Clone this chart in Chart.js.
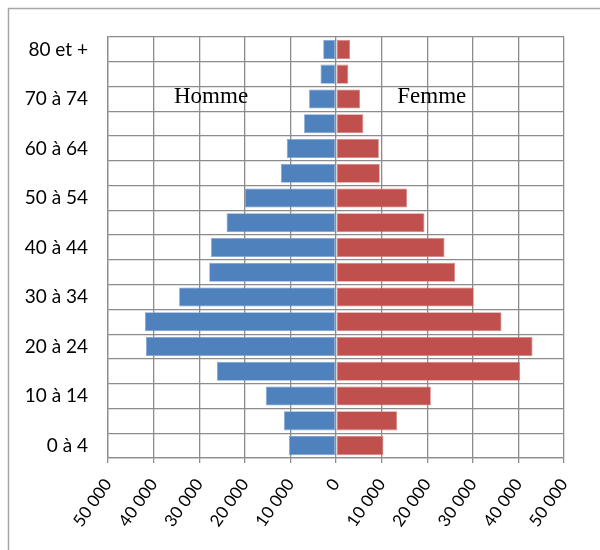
<!DOCTYPE html>
<html>
<head>
<meta charset="utf-8">
<script src="https://cdn.jsdelivr.net/npm/chart.js@4/dist/chart.umd.min.js"></script>
<style>
  html, body { margin: 0; padding: 0; background: #fff; }
  #pyramide { display: block; }
</style>
</head>
<body>
<canvas id="pyramide" width="600" height="550"></canvas>
<script>
// tranches d'âge, du bas vers le haut
const ages = ['0 à 4', '5 à 9', '10 à 14', '15 à 19', '20 à 24', '25 à 29', '30 à 34', '35 à 39',
    '40 à 44', '45 à 49', '50 à 54', '55 à 59', '60 à 64', '65 à 69', '70 à 74', '75 à 79', '80 et +'];
const hommes = [10300, 11400, 15400, 26100, 41700, 41900, 34400, 27800, 27400, 24000, 20000, 12100, 10800, 7000, 5900, 3400, 2800];
const femmes = [10400, 13400, 20800, 40400, 43100, 36300, 30200, 26100, 23800, 19400, 15600, 9600, 9400, 6000, 5300, 2700, 3100];
const xTicks = [-50000, -40000, -30000, -20000, -10000, 0, 10000, 20000, 30000, 40000, 50000];

// format "50 000"
function formatNombre(v) {
    return String(Math.abs(v)).replace(/\B(?=(\d{3})+(?!\d))/g, ' ');
}

// cadre + textes Homme / Femme
const decor = {
    id: 'decor',
    beforeDraw(chart) {
        const ctx = chart.ctx;
        ctx.save();
        ctx.fillStyle = '#fff';
        ctx.fillRect(0, 0, chart.width, chart.height);
        ctx.strokeStyle = '#a6a6a6';
        ctx.lineWidth = 1.5;
        ctx.strokeRect(8.5, 8.5, 640, 600);
        ctx.restore();
    },
    afterDatasetsDraw(chart) {
        const ctx = chart.ctx;
        const x = chart.scales.x;
        const y = chart.scales.y;
        ctx.save();
        ctx.fillStyle = '#000';
        ctx.font = '23px "Liberation Serif", serif';
        ctx.textBaseline = 'middle';
        ctx.textAlign = 'center';
        ctx.fillText('Homme', x.getPixelForValue(-27400), y.getPixelForValue(14) - 2);
        ctx.fillText('Femme', x.getPixelForValue(21000), y.getPixelForValue(14) - 2);
        ctx.restore();
    }
};

new Chart(document.getElementById('pyramide'), {
    type: 'bar',
    data: {
        labels: ages,
        datasets: [{
            label: 'Homme',
            data: hommes.map(v => -v),
            backgroundColor: '#4f81bd',
            borderColor: '#7ea3d1',
            borderWidth: 0.8,
            borderSkipped: false,
            categoryPercentage: 1,
            barPercentage: 0.77
        }, {
            label: 'Femme',
            data: femmes,
            backgroundColor: '#c0504d',
            borderColor: '#d68482',
            borderWidth: 0.8,
            borderSkipped: false,
            categoryPercentage: 1,
            barPercentage: 0.77
        }]
    },
    options: {
        indexAxis: 'y',
        responsive: false,
        animation: false,
        layout: { padding: { top: 37, right: 36, left: 0, bottom: 0 } },
        plugins: {
            legend: { display: false },
            tooltip: { enabled: false }
        },
        scales: {
            x: {
                stacked: true,
                min: -50000,
                max: 50000,
                afterBuildTicks: scale => { scale.ticks = xTicks.map(v => ({ value: v })); },
                afterFit: scale => { scale.height = 92; },
                grid: { color: '#8c8c8c', lineWidth: 1.3, tickLength: 5, drawTicks: true },
                border: { color: '#8c8c8c', width: 1.3 },
                ticks: {
                    callback: v => formatNombre(v),
                    minRotation: 55,
                    maxRotation: 55,
                    padding: 12,
                    color: '#000',
                    font: { family: 'Lato', size: 17 }
                }
            },
            y: {
                stacked: true,
                reverse: true,
                afterFit: scale => { scale.width = 108; },
                grid: { color: '#8c8c8c', lineWidth: 1.3, drawTicks: false, offset: true },
                border: { color: '#8c8c8c', width: 1.3 },
                ticks: {
                    autoSkip: false,
                    callback: (v, i) => i % 2 === 0 ? ages[i] : '',
                    padding: 20,
                    color: '#000',
                    font: { family: 'Lato', size: 19 }
                }
            }
        }
    },
    plugins: [decor]
});
</script>
</body>
</html>
